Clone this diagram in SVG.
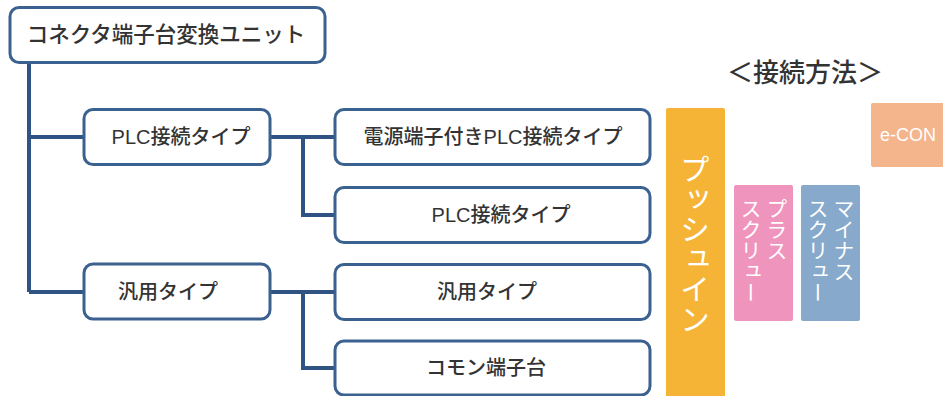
<svg xmlns="http://www.w3.org/2000/svg" width="943" height="396" viewBox="0 0 943 396">
<style>
.box{fill:#fff;stroke:#3b6190;stroke-width:3}
.lbl{font-family:"Liberation Sans","Noto Sans CJK JP",sans-serif;font-size:20px;font-weight:500;fill:#333;text-anchor:middle;dominant-baseline:central}
.conn{fill:none;stroke:#2f5484;stroke-width:4}
.vt{font-family:"Noto Sans CJK JP","Noto Sans",sans-serif;fill:#fff;writing-mode:vertical-rl}
</style>
<rect width="943" height="396" fill="#fff"/>
<g id="connectors">
<path class="conn" d="M29 63 V292 M29 137 H84 M29 292 H84"/>
<path class="conn" d="M270 137 H335 M303 137 V215 H335"/>
<path class="conn" d="M270 292 H335 M303 292 V368 H335"/>
</g>
<g id="root"><rect class="box" x="10" y="7.5" width="315" height="55" rx="9"/><text class="lbl" x="166" y="35" style="font-size:21.5px">コネクタ端子台変換ユニット</text></g>
<g id="plc"><rect class="box" x="84" y="109.5" width="186" height="55" rx="9"/><text class="lbl" x="181" y="137">PLC接続タイプ</text></g>
<g id="hanyo"><rect class="box" x="84" y="264" width="186" height="55" rx="9"/><text class="lbl" x="168" y="292">汎用タイプ</text></g>
<g id="plc-power"><rect class="box" x="335" y="109.5" width="315" height="55" rx="9"/><text class="lbl" x="493" y="137">電源端子付きPLC接続タイプ</text></g>
<g id="plc2"><rect class="box" x="335" y="187.5" width="315" height="55" rx="9"/><text class="lbl" x="501" y="215">PLC接続タイプ</text></g>
<g id="hanyo2"><rect class="box" x="335" y="264.5" width="315" height="55" rx="9"/><text class="lbl" x="487" y="292">汎用タイプ</text></g>
<g id="common"><rect class="box" x="335" y="341" width="315" height="54" rx="9"/><text class="lbl" x="486" y="368">コモン端子台</text></g>
<g id="method-title"><text x="805" y="70" style="font-family:'Noto Sans CJK JP',sans-serif;font-size:26px;font-weight:500;fill:#333;text-anchor:middle;dominant-baseline:central">＜接続方法＞</text></g>
<g id="pushin"><rect x="666" y="108" width="59" height="300" rx="2" fill="#f5b436"/><text class="vt" x="695" y="154" style="font-size:30px">プッシュイン</text></g>
<g id="plus"><rect x="734" y="185" width="59" height="136" rx="2" fill="#ef94bd"/><text class="vt" x="777" y="198" style="font-size:21px">プラス</text><text class="vt" x="751" y="198" style="font-size:21px">スクリュー</text></g>
<g id="minus"><rect x="801" y="185" width="59" height="136" rx="2" fill="#86a9cc"/><text class="vt" x="844" y="198" style="font-size:21px">マイナス</text><text class="vt" x="818" y="198" style="font-size:21px">スクリュー</text></g>
<g id="econ"><rect x="871" y="103" width="80" height="64" rx="2" fill="#f4b48c"/><text x="908" y="135" style="font-family:'Liberation Sans',sans-serif;font-size:18px;fill:#fff;text-anchor:middle;dominant-baseline:central">e-CON</text></g>
</svg>
